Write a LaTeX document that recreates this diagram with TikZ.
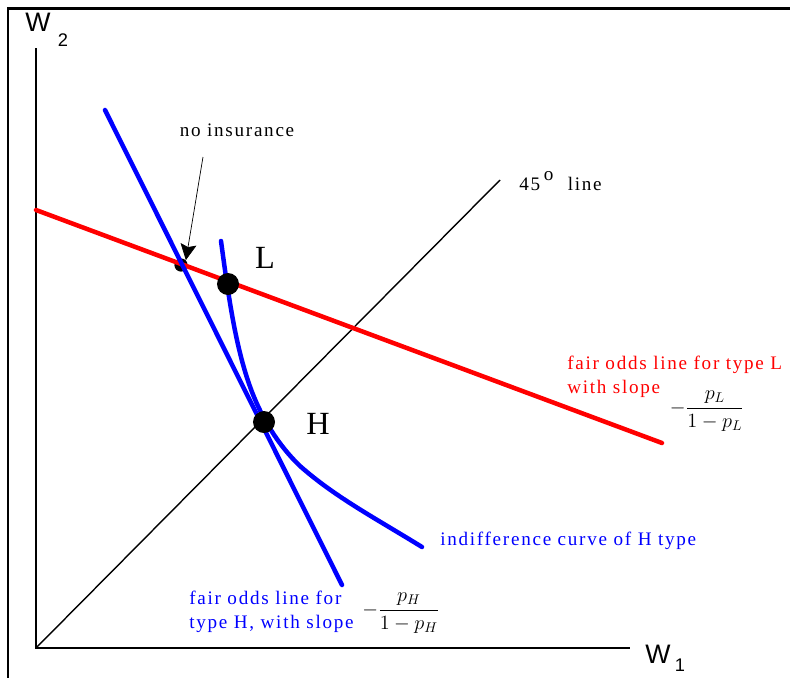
\documentclass[tikz,border=0pt]{standalone}
\usepackage{amsmath}
\usepackage{fontspec}
\setmainfont{Liberation Serif}
\newfontfamily\labelfont[LetterSpace=9]{Liberation Serif}
\newfontfamily\axisfont{Liberation Sans}
\usetikzlibrary{arrows.meta, positioning}

\tikzset{
  curveline/.style={line width=3.2pt, line cap=round},
  bigdot/.style={circle, fill=black, inner sep=0pt, minimum size=0.55cm},
  smalldot/.style={circle, fill=black, inner sep=0pt, minimum size=0.33cm},
  lbl/.style={inner sep=0pt, font=\labelfont\fontsize{13.6}{17}\selectfont},
  ptlbl/.style={inner sep=0pt, font=\fontsize{23}{26}\selectfont},
  slopefrac/.style={inner sep=0pt, font=\fontsize{14}{16}\selectfont}
}

\begin{document}
\begin{tikzpicture}[x=0.025cm, y=-0.025cm]
  \useasboundingbox (0,0) rectangle (791,678);
  % frame
  \draw[line width=1.6pt] (8,678) -- (8,8.5) -- (790,8.5);

  % axes
  \coordinate (O) at (36,648);
  \coordinate (ytop) at (36,48);
  \coordinate (xend) at (630,648);
  \draw[line width=1.2pt] (ytop) -- (O) -- (xend);
  \node[inner sep=0pt, font=\axisfont\fontsize{19}{21}\selectfont] (W2) at (38,22) {W};
  \node[inner sep=0pt, font=\axisfont\fontsize{13}{15}\selectfont] (sub2) at (63,40) {2};
  \node[inner sep=0pt, font=\axisfont\fontsize{19}{21}\selectfont] (W1) at (658,654) {W};
  \node[inner sep=0pt, font=\axisfont\fontsize{13}{15}\selectfont] (sub1) at (680,665) {1};

  % 45 degree line
  \coordinate (diagend) at (500,180);
  \draw[line width=1pt] (O) -- (diagend);
  \node[lbl, anchor=west] (deg) at (519,181) {45\hspace{0.2em}\raisebox{1.1ex}{o}\hspace{0.75em}line};

  % no insurance point (below the lines)
  \node[smalldot] (noins) at (181,265) {};

  % fair odds line for type L
  \coordinate (Lstart) at (36,210);
  \coordinate (Lend) at (662,443);
  \draw[curveline, red] (Lstart) -- (Lend);

  % fair odds line for type H
  \coordinate (Hstart) at (105,110);
  \coordinate (Hend) at (342,585);
  \draw[curveline, blue] (Hstart) -- (Hend);

  % indifference curve of H type
  \draw[curveline, blue] (221,241) .. controls (229,300) and (236,350) .. (252,392)
    .. controls (262,418) and (278,445) .. (300,466)
    .. controls (335,497) and (375,518) .. (422,547);

  % points L and H
  \node[bigdot] (ptL) at (228,284) {};
  \node[bigdot] (ptH) at (264,422) {};
  \node[ptlbl] (Llab) at (265,258) {L};
  \node[ptlbl] (Hlab) at (318,424) {H};

  % no insurance label and arrow
  \node[lbl] (noinslab) at (237,130) {no insurance};
  \coordinate (arrtail) at (203,157);
  \draw[line width=0.5pt, -{Stealth[length=0.4cm, width=0.4cm, inset=0.07cm]}] (arrtail) -- (noins.north east);

  % labels
  \node[lbl, text=red, align=left, anchor=north west] (Ltext) at (567,356) {fair odds line for type L\\with slope};
  \node[slopefrac] (Lfrac) at (707,411) {$-\dfrac{p_L}{1-p_L}$};
  \node[lbl, text=blue, anchor=west] (ictext) at (440,541) {indifference curve of H type};
  \node[lbl, text=blue, align=left, anchor=north west] (Htext) at (189,591) {fair odds line for\\type H, with slope};
  \node[slopefrac] (Hfrac) at (401,613) {$-\dfrac{p_H}{1-p_H}$};
\end{tikzpicture}
\end{document}
